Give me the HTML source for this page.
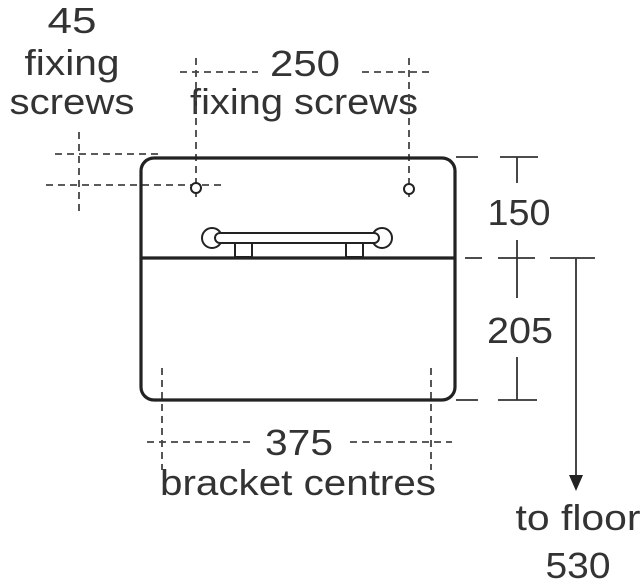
<!DOCTYPE html>
<html><head><style>body{margin:0;background:#fff}svg{display:block}</style></head><body>
<svg width="643" height="586" viewBox="0 0 643 586" xmlns="http://www.w3.org/2000/svg">
<g font-family="Liberation Sans, sans-serif" font-size="36" fill="#333" text-anchor="middle" lengthAdjust="spacingAndGlyphs">
<text x="72" y="33" textLength="49" lengthAdjust="spacingAndGlyphs">45</text>
<text x="72" y="75" textLength="95" lengthAdjust="spacingAndGlyphs">fixing</text>
<text x="72" y="114" textLength="125" lengthAdjust="spacingAndGlyphs">screws</text>
<text x="305" y="76" textLength="70" lengthAdjust="spacingAndGlyphs">250</text>
<text x="304" y="114" textLength="228" lengthAdjust="spacingAndGlyphs">fixing screws</text>
<text x="519" y="225" textLength="63" lengthAdjust="spacingAndGlyphs">150</text>
<text x="520" y="343" textLength="66" lengthAdjust="spacingAndGlyphs">205</text>
<text x="299" y="455" textLength="68" lengthAdjust="spacingAndGlyphs">375</text>
<text x="298" y="495" textLength="276" lengthAdjust="spacingAndGlyphs">bracket centres</text>
<text x="578" y="530" textLength="125" lengthAdjust="spacingAndGlyphs">to floor</text>
<text x="578" y="578" textLength="65" lengthAdjust="spacingAndGlyphs">530</text>
</g>
<g stroke="#444" stroke-width="1.8" stroke-dasharray="7,5" fill="none">
<line x1="180" y1="72" x2="258" y2="72"/><line x1="362" y1="72" x2="434" y2="72"/>
<line x1="196" y1="58" x2="196" y2="200"/><line x1="409" y1="58" x2="409" y2="200"/>
<line x1="79" y1="132" x2="79" y2="215"/>
<line x1="55" y1="154" x2="158" y2="154"/>
<line x1="46" y1="185" x2="222" y2="185"/>
<line x1="162" y1="368" x2="162" y2="470"/><line x1="431" y1="368" x2="431" y2="470"/>
<line x1="147" y1="442" x2="250" y2="442"/><line x1="350" y1="442" x2="452" y2="442"/>
</g>
<g stroke="#333" stroke-width="1.8" fill="none">
<line x1="456" y1="157" x2="478" y2="157"/><line x1="500" y1="157" x2="538" y2="157"/>
<line x1="517" y1="157" x2="517" y2="183"/>
<line x1="465" y1="258" x2="482" y2="258"/><line x1="498" y1="258" x2="535" y2="258"/><line x1="550" y1="258" x2="595" y2="258"/>
<line x1="517" y1="240" x2="517" y2="298"/>
<line x1="517" y1="357" x2="517" y2="400"/>
<line x1="456" y1="400" x2="478" y2="400"/><line x1="498" y1="400" x2="537" y2="400"/>
<line x1="576" y1="258" x2="576" y2="478"/>
</g>
<polygon points="569,475 583,475 576,491" fill="#222"/>
<g stroke="#222" stroke-width="3.2" fill="none">
<rect x="141" y="158" width="314" height="242" rx="13"/>
<line x1="141" y1="258" x2="455" y2="258"/>
</g>
<g stroke="#222" stroke-width="2" fill="#fff">
<circle cx="196" cy="188" r="5"/><circle cx="409" cy="189" r="5"/>
<rect x="235" y="243" width="17" height="14"/><rect x="346" y="243" width="17" height="14"/>
<circle cx="212" cy="238" r="10"/><circle cx="382" cy="238" r="10"/>
<rect x="215" y="233" width="164" height="10" rx="5"/>
</g>
</svg>
</body></html>
